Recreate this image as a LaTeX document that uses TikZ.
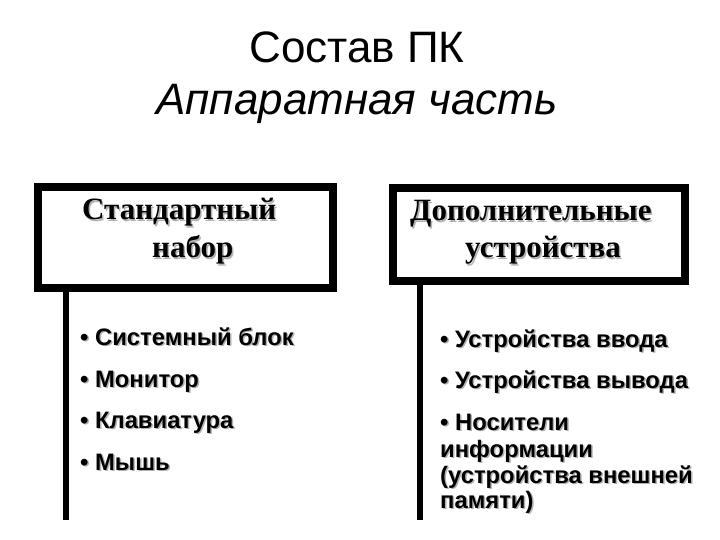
\documentclass[tikz,border=0pt]{standalone}
\usepackage{fontspec}
\setmainfont{Liberation Sans}
\newfontfamily\serifbf{Liberation Serif}
\usetikzlibrary{calc}
\tikzset{
  x=1pt, y=-1pt,
  box/.style={draw=black, line width=8pt, fill=white, inner sep=0pt},
  stem/.style={draw=black, line width=6pt},
  head/.style={font=\serifbf\fontsize{31}{34}\bfseries\selectfont, anchor=base west, inner sep=0pt},
  item/.style={font=\fontsize{23.8}{27}\bfseries\selectfont, anchor=base west, inner sep=0pt},
  shade/.style={text=black!30},
  ttl/.style={font=\fontsize{44}{50}\selectfont, anchor=base, inner sep=0pt}
}
\newcommand{\shtext}[4]{%
  \node[#1, shade] at ($(#2)+(1.5,1.5)$) {#4};
  \node[#1] (#3) at (#2) {#4};}
\begin{document}
\begin{tikzpicture}
\useasboundingbox (0,0) rectangle (720,540);
% title
\node[ttl] (t1) at (357,63) {Состав ПК};
\node[ttl, font=\fontsize{44}{50}\itshape\selectfont] (t2) at (357,115) {Аппаратная часть};
% boxes
\node[box, minimum width=295pt, minimum height=101pt, anchor=north west] (lbox) at (34,183) {};
\node[box, minimum width=292pt, minimum height=93pt, anchor=north west] (rbox) at (389,184) {};
\coordinate (lend) at (66,520);
\coordinate (rend) at (420,520);
\draw[stem] (lbox.south west -| lend) ++(0,-4) -- (lend);
\draw[stem] (rbox.south west -| rend) ++(0,-4) -- (rend);
% box texts
\shtext{head}{82,220}{h1}{Стандартный}
\shtext{head}{152,258}{h2}{набор}
\shtext{head}{410,221}{h3}{Дополнительные}
\shtext{head}{465,258}{h4}{устройства}
% left list
\shtext{item}{80,345}{a1}{• Системный блок}
\shtext{item}{80,387}{a2}{• Монитор}
\shtext{item}{80,428}{a3}{• Клавиатура}
\shtext{item}{80,470}{a4}{• Мышь}
% right list
\shtext{item}{440,347}{b1}{• Устройства ввода}
\shtext{item}{440,388}{b2}{• Устройства вывода}
\shtext{item}{440,430}{b3}{• Носители}
\shtext{item}{440,457}{b4}{информации}
\shtext{item}{440,483}{b5}{(устройства внешней}
\shtext{item}{440,508}{b6}{памяти)}
\end{tikzpicture}
\end{document}
